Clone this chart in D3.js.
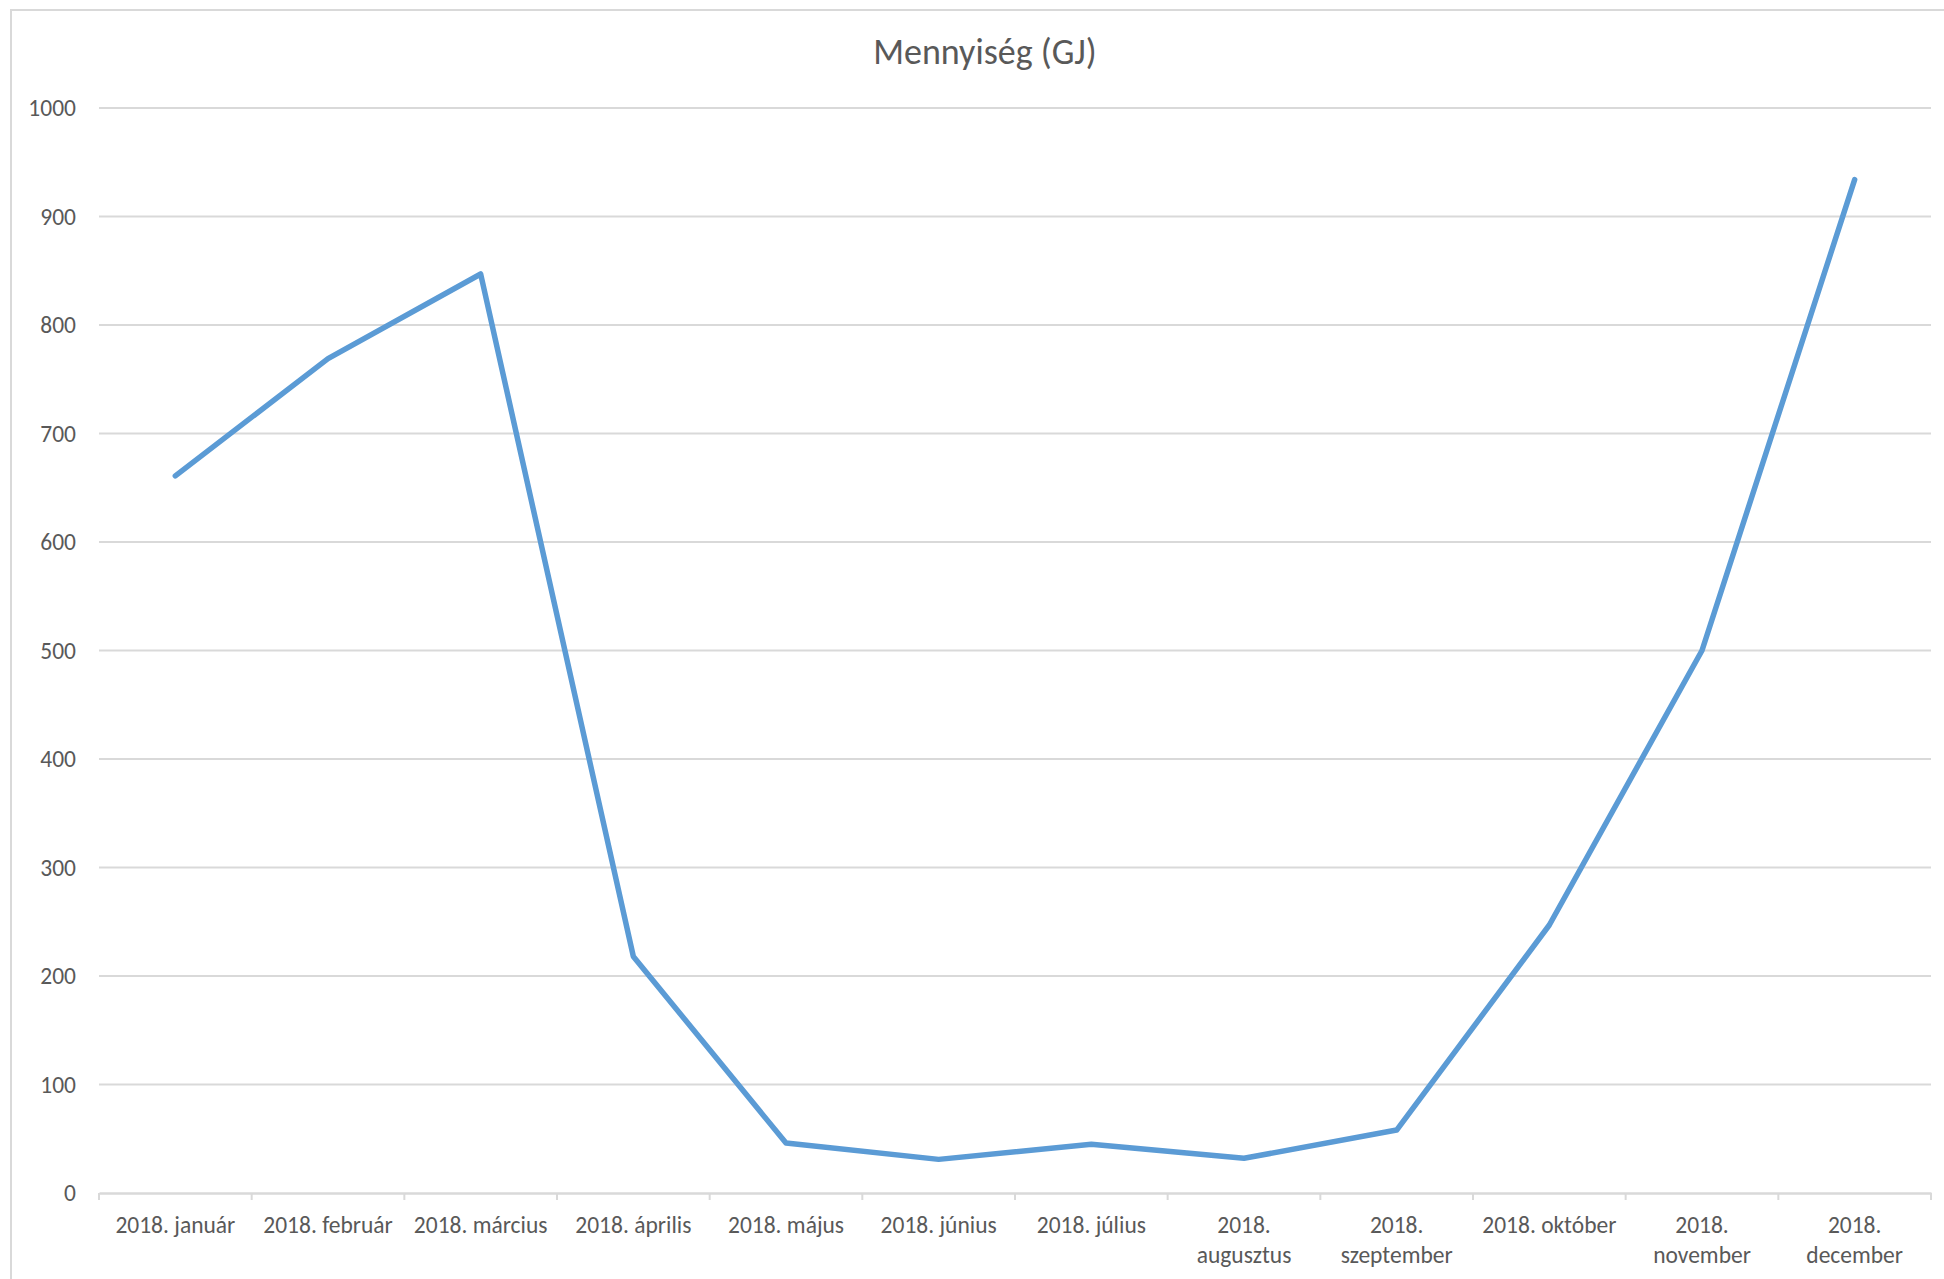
<!DOCTYPE html>
<html>
<head>
<meta charset="utf-8">
<script src="https://cdn.jsdelivr.net/npm/d3@7"></script>
<style>
  body { margin: 0; background: #fff; }
  text { font-family: Carlito, "Open Sans", sans-serif; fill: #595959; }
</style>
</head>
<body>
<div id="chart"></div>
<script>
// data
const months = ["2018. január", "2018. február", "2018. március", "2018. április",
  "2018. május", "2018. június", "2018. július", "2018. augusztus",
  "2018. szeptember", "2018. október", "2018. november", "2018. december"];
const amounts = [661, 769, 847, 218, 46, 31, 45, 32, 58, 247, 500, 934];
const yTicks = [0, 100, 200, 300, 400, 500, 600, 700, 800, 900, 1000];
const chartTitle = "Mennyiség (GJ)";

const width = 1944, height = 1279;
const margin = { top: 108, right: 13, bottom: 86, left: 99 };

const svg = d3.select("#chart").append("svg")
    .attr("width", width)
    .attr("height", height);

// chart area border
svg.append("rect")
    .attr("x", 11).attr("y", 10)
    .attr("width", width + 20).attr("height", height + 20)
    .attr("fill", "none")
    .attr("stroke", "#d9d9d9")
    .attr("stroke-width", 2);

const x = d3.scaleBand()
    .domain(months)
    .range([margin.left, width - margin.right]);

const y = d3.scaleLinear()
    .domain([0, 1000])
    .range([height - margin.bottom, margin.top]);

// gridlines
svg.append("g")
    .selectAll("line")
    .data(yTicks.filter(d => d > 0))
    .join("line")
    .attr("x1", margin.left)
    .attr("x2", width - margin.right)
    .attr("y1", d => y(d))
    .attr("y2", d => y(d))
    .attr("stroke", "#d9d9d9")
    .attr("stroke-width", 2);

// y axis labels
const yAxis = svg.append("g")
    .attr("transform", `translate(${margin.left},0)`)
    .call(d3.axisLeft(y).tickValues(yTicks).tickFormat(d3.format("d")).tickSize(0).tickPadding(23));
yAxis.select(".domain").remove();
yAxis.selectAll("text")
    .style("font-size", "23.5px")
    .attr("fill", "#595959");

// x axis
const xAxis = svg.append("g")
    .attr("transform", `translate(0,${y(0)})`)
    .call(d3.axisBottom(x).tickSize(0).tickSizeOuter(0).tickPadding(0));
xAxis.select(".domain")
    .attr("stroke", "#d9d9d9")
    .attr("stroke-width", 2.5);
xAxis.selectAll(".tick text").remove();

// tick marks between categories
const bounds = months.map(m => x(m)).concat([x.range()[1]]);
xAxis.append("g")
    .selectAll("line")
    .data(bounds)
    .join("line")
    .attr("x1", d => d).attr("x2", d => d)
    .attr("y1", 0).attr("y2", 7)
    .attr("stroke", "#d9d9d9")
    .attr("stroke-width", 2);

// category labels, long ones wrap onto two lines
xAxis.selectAll(".tick")
    .append("text")
    .attr("text-anchor", "middle")
    .style("font-size", "23.5px")
    .each(function(d) {
        const lines = d.length > 13 ? d.split(" ") : [d];
        d3.select(this).selectAll("tspan")
            .data(lines)
            .join("tspan")
            .attr("x", 0)
            .attr("y", (l, i) => 40 + i * 30)
            .text(l => l);
    });

// line
const line = d3.line()
    .x((d, i) => x(months[i]) + x.bandwidth() / 2)
    .y(d => y(d));

svg.append("path")
    .datum(amounts)
    .attr("d", line)
    .attr("fill", "none")
    .attr("stroke", "#5b9bd5")
    .attr("stroke-width", 5.5)
    .attr("stroke-linejoin", "round")
    .attr("stroke-linecap", "round");

// title
svg.append("text")
    .attr("x", 985)
    .attr("y", 64)
    .attr("text-anchor", "middle")
    .style("font-size", "36px")
    .text(chartTitle);
</script>
</body>
</html>
